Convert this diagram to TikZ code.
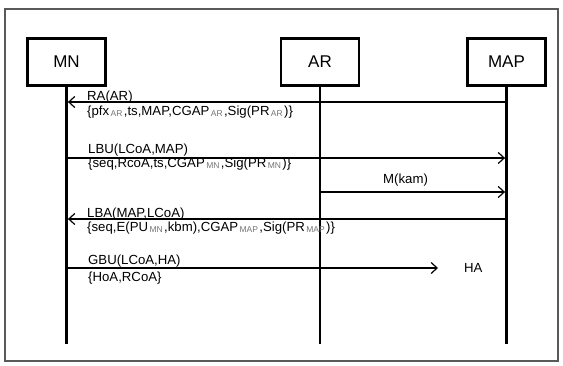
\documentclass[tikz,border=0pt]{standalone}
\usepackage{fontspec}
\setmainfont{Liberation Sans}
\usetikzlibrary{arrows.meta}
\newcommand\sbs[1]{\raisebox{-1pt}{\fontsize{8.5}{8.5}\selectfont\color{black!55}\,#1\,}}
\begin{document}
\begin{tikzpicture}[x=1pt,y=-1pt,
  actor/.style={draw,line width=2.8pt,minimum width=78pt,minimum height=47pt,font=\fontsize{17}{17}\selectfont,inner sep=0pt},
  life/.style={line width=2.8pt},
  msg/.style={line width=1.2pt,-{Straight Barb[length=6pt,width=11pt,line width=1.2pt]},shorten >=1.4pt},
  lbl/.style={anchor=base west,font=\fontsize{13.2}{13.2}\selectfont,inner sep=0pt}]
\useasboundingbox (0,0) rectangle (563,365);
\draw[black!65,line width=1.5pt] (5,9) rectangle (558,361);
% actors
\node[actor] (mn) at (66.5,62) {MN};
\node[actor] (ar) at (320,62) {AR};
\node[actor] (map) at (506.5,62) {MAP};
\coordinate (mnE) at (66.5,344);
\coordinate (arE) at (320,344);
\coordinate (mapE) at (506.5,344);
\draw[life] (mn.south) -- (mnE);
\draw[life] (ar.south) -- (arE);
\draw[life] (map.south) -- (mapE);
% message end points
\coordinate (raS) at (506.5,102); \coordinate (raT) at (66.5,102);
\coordinate (lbuS) at (66.5,158); \coordinate (lbuT) at (506.5,158);
\coordinate (mkS) at (320,192);   \coordinate (mkT) at (506.5,192);
\coordinate (lbaS) at (506.5,219); \coordinate (lbaT) at (66.5,219);
\coordinate (gbuS) at (66.5,268); \coordinate (gbuT) at (438,268);
% messages
\draw[msg] (raS) -- (raT);
\draw[msg] (lbuS) -- (lbuT);
\draw[msg] (mkS) -- (mkT);
\draw[msg] (lbaS) -- (lbaT);
\draw[msg,shorten >=0pt] (gbuS) -- (gbuT);
% labels
\node[lbl] (ra1) at (87,100) {RA(AR)};
\node[lbl] (ra2) at (87,115) {\{pfx\sbs{AR},ts,MAP,CGAP\sbs{AR},Sig(PR\sbs{AR})\}};
\node[lbl] (lbu1) at (88,153) {LBU(LCoA,MAP)};
\node[lbl] (lbu2) at (88,167.5) {\{seq,RcoA,ts,CGAP\sbs{MN},Sig(PR\sbs{MN})\}};
\node[lbl] (mk) at (383,183) {M(kam)};
\node[lbl] (lba1) at (87,217.5) {LBA(MAP,LCoA)};
\node[lbl] (lba2) at (87,231) {\{seq,E(PU\sbs{MN},kbm),CGAP\sbs{MAP},Sig(PR\sbs{MAP})\}};
\node[lbl] (gbu1) at (88,264) {GBU(LCoA,HA)};
\node[lbl] (gbu2) at (88,281) {\{HoA,RCoA\}};
\node[lbl] (ha) at (464,272.5) {HA};
\end{tikzpicture}
\end{document}
